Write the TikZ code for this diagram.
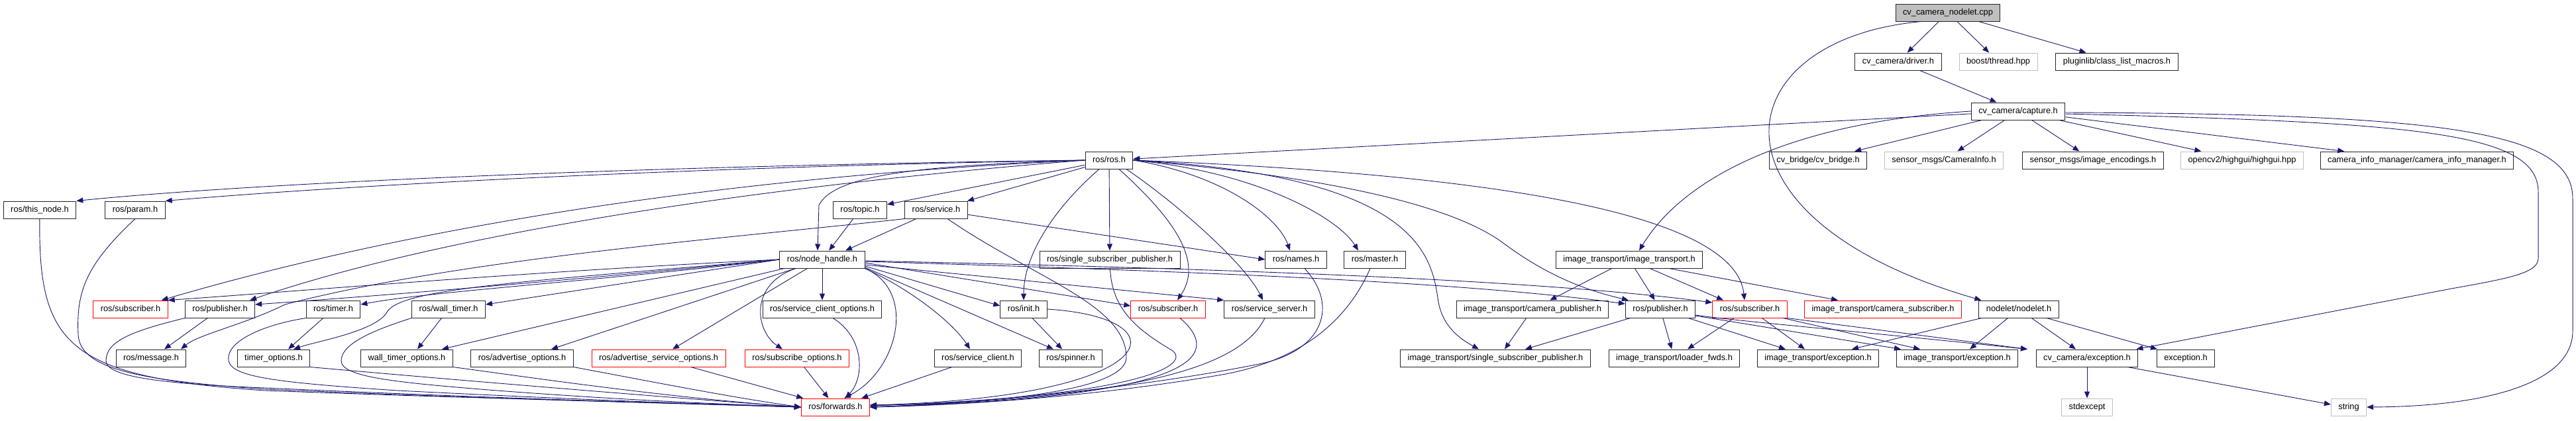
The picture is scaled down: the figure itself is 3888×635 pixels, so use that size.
\documentclass[tikz,border=0pt]{standalone}
\usepackage{fontspec}
\usepackage{xcolor}
\usepackage{tikz}
\usetikzlibrary{arrows.meta}
\newfontfamily\graphfont{Liberation Sans}
\definecolor{edgeblue}{HTML}{191970}
\definecolor{extgray}{HTML}{BFBFBF}
\definecolor{cutred}{HTML}{FF0000}

\begin{document}
\begin{tikzpicture}[x=1pt, y=-1pt,
  hbox/.style={draw=black!85, fill=white, line width=1pt, minimum height=26pt,
               inner xsep=11pt, inner ysep=0pt, text height=9.5pt, text depth=2.5pt,
               font={\graphfont\fontsize{12.8}{15}\selectfont}},
  extbox/.style={hbox, draw=extgray},
  cutbox/.style={hbox, draw=cutred},
  rootbox/.style={hbox, fill=extgray},
  arr/.style={-{Triangle[length=10pt, width=8pt]}, edgeblue, line width=0.9pt}
]
  \useasboundingbox (0,0) rectangle (3888,635);

  \node[rootbox] (root) at (2940,19) {cv\_camera\_nodelet.cpp};

  \node[hbox] (driver) at (2865,93) {cv\_camera/driver.h};
  \node[extbox] (boostthr) at (3016,93) {boost/thread.hpp};
  \node[hbox] (pluginlib) at (3195,93) {pluginlib/class\_list\_macros.h};

  \node[hbox] (capture) at (3046,168) {cv\_camera/capture.h};

  \node[hbox] (rosros) at (1674,242) {ros/ros.h};
  \node[hbox] (cvbridge) at (2744,242) {cv\_bridge/cv\_bridge.h};
  \node[extbox] (caminfo) at (2934,242) {sensor\_msgs/CameraInfo.h};
  \node[hbox] (imgenc) at (3159,242) {sensor\_msgs/image\_encodings.h};
  \node[extbox] (highgui) at (3384,242) {opencv2/highgui/highgui.hpp};
  \node[hbox] (cimgr) at (3648,242) {camera\_info\_manager/camera\_info\_manager.h};

  \node[hbox] (thisnode) at (60,317) {ros/this\_node.h};
  \node[hbox] (param) at (204,317) {ros/param.h};
  \node[hbox] (topic) at (1298,317) {ros/topic.h};
  \node[hbox] (service) at (1413,317) {ros/service.h};

  \node[hbox] (nodehandle) at (1241,392) {ros/node\_handle.h};
  \node[hbox] (rosssp) at (1675,392) {ros/single\_subscriber\_publisher.h};
  \node[hbox] (names) at (1956,392) {ros/names.h};
  \node[hbox] (master) at (2075,392) {ros/master.h};
  \node[hbox] (ittransport) at (2459,392) {image\_transport/image\_transport.h};

  \node[cutbox] (sub1) at (197,467) {ros/subscriber.h};
  \node[hbox] (pub1) at (332,467) {ros/publisher.h};
  \node[hbox] (timer) at (503,467) {ros/timer.h};
  \node[hbox] (walltimer) at (677,467) {ros/wall\_timer.h};
  \node[hbox] (scopts) at (1241,467) {ros/service\_client\_options.h};
  \node[hbox] (init) at (1545,467) {ros/init.h};
  \node[cutbox] (sub2) at (1763,467) {ros/subscriber.h};
  \node[hbox] (srvserver) at (1916,467) {ros/service\_server.h};
  \node[hbox] (itcampub) at (2313,467) {image\_transport/camera\_publisher.h};
  \node[hbox] (pub2) at (2506,467) {ros/publisher.h};
  \node[cutbox] (sub3) at (2641,467) {ros/subscriber.h};
  \node[cutbox] (itcamsub) at (2842,467) {image\_transport/camera\_subscriber.h};
  \node[hbox] (nodelet) at (3047,467) {nodelet/nodelet.h};

  \node[hbox] (message) at (228,541) {ros/message.h};
  \node[hbox] (timeropts) at (413,541) {timer\_options.h};
  \node[hbox] (walltimeropts) at (614,541) {wall\_timer\_options.h};
  \node[hbox] (advopts) at (788,541) {ros/advertise\_options.h};
  \node[cutbox] (advsrvopts) at (994,541) {ros/advertise\_service\_options.h};
  \node[cutbox] (subopts) at (1203,541) {ros/subscribe\_options.h};
  \node[hbox] (srvclient) at (1476,541) {ros/service\_client.h};
  \node[hbox] (spinner) at (1616,541) {ros/spinner.h};
  \node[hbox] (itssp) at (2257,541) {image\_transport/single\_subscriber\_publisher.h};
  \node[hbox] (itloader) at (2527,541) {image\_transport/loader\_fwds.h};
  \node[hbox] (itexc1) at (2744,541) {image\_transport/exception.h};
  \node[hbox] (itexc2) at (2954,541) {image\_transport/exception.h};
  \node[hbox] (cvexc) at (3150,541) {cv\_camera/exception.h};
  \node[hbox] (exc) at (3299,541) {exception.h};

  \node[cutbox] (forwards) at (1261,615) {ros/forwards.h};
  \node[extbox] (stdexcept) at (3150,615) {stdexcept};
  \node[extbox] (string) at (3545,615) {string};

  \draw[arr] (root) -- (driver);
  \draw[arr] (root) -- (boostthr);
  \draw[arr] (root) -- (pluginlib);
  \draw[arr] ([xshift=-40pt]root.south) .. controls (2600,60) and (2560,330) .. ([xshift=4pt]nodelet.north west);
  \draw[arr] (driver) -- (capture);

  \draw[arr] (capture) -- (rosros);
  \draw[arr] (capture.west) .. controls (2700,185) and (2540,270) .. ([xshift=15pt]ittransport.north);
  \draw[arr] (capture) -- (cvbridge);
  \draw[arr] (capture) -- (caminfo);
  \draw[arr] (capture) -- (imgenc);
  \draw[arr] (capture) -- (highgui);
  \draw[arr] (capture) -- (cimgr);
  \draw[arr] ([yshift=-4pt]capture.east) .. controls (3650,185) and (3831,200) .. (3831,290) -- (3831,390)
    .. controls (3831,412) and (3790,420) .. (3700,436) -- ([xshift=-3pt]cvexc.north east);
  \draw[arr] ([yshift=-2pt]capture.east) .. controls (3700,172) and (3883,200) .. (3883,300) -- (3883,500)
    .. controls (3883,580) and (3750,614) .. (string.east);

  \draw[arr] (rosros.west) .. controls (1000,250) and (400,275) .. (thisnode.north east);
  \draw[arr] (rosros.west) .. controls (1000,253) and (500,282) .. (param.north east);
  \draw[arr] (rosros) -- (topic);
  \draw[arr] (rosros) -- (service);
  \draw[arr] (rosros.west) .. controls (1400,250) and (1260,262) .. (1236,310) -- ([xshift=-7pt]nodehandle.north);
  \draw[arr] (rosros.west) .. controls (1200,262) and (700,320) .. ([xshift=-10pt]sub1.north east);
  \draw[arr] (rosros.west) .. controls (1100,285) and (650,360) .. ([xshift=-8pt]pub1.north east);
  \draw[arr] ([xshift=-15pt]rosros.south) .. controls (1585,320) and (1545,390) .. (init.north);
  \draw[arr] (rosros) -- (rosssp);
  \draw[arr] ([xshift=15pt]rosros.south) .. controls (1760,320) and (1820,390) .. ([xshift=14pt]sub2.north);
  \draw[arr] ([xshift=26pt]rosros.south) .. controls (1780,310) and (1880,400) .. ([xshift=-10pt]srvserver.north);
  \draw[arr] (rosros.east) .. controls (1850,265) and (1930,330) .. ([xshift=-9pt]names.north);
  \draw[arr] (rosros.east) .. controls (1900,260) and (2020,330) .. ([xshift=-25pt]master.north);
  \draw[arr] (rosros.east) .. controls (2130,265) and (2160,380) .. (2170,450)
    .. controls (2175,490) and (2200,510) .. ([xshift=-25pt]itssp.north);
  \draw[arr] (rosros.east) .. controls (1950,262) and (2180,300) .. (2270,368)
    .. controls (2340,420) and (2400,440) .. ([xshift=5pt]pub2.north west);
  \draw[arr] (rosros.east) .. controls (2300,265) and (2620,330) .. ([xshift=-8pt]sub3.north);

  \draw[arr] (topic) -- (nodehandle);
  \draw[arr] (service) -- ([xshift=35pt]nodehandle.north);
  \draw[arr] (service) -- (names.west);
  \draw[arr] (service.south west) .. controls (1100,360) and (700,390) .. (430,460)
    .. controls (370,490) and (300,505) .. ([xshift=45pt]message.north);
  \draw[arr] ([xshift=17pt]service.south) .. controls (1560,420) and (1700,460) .. (1700,540)
    .. controls (1700,590) and (1500,610) .. ([yshift=3pt]forwards.east);

  \draw[arr] (nodehandle.west) .. controls (800,410) and (450,440) .. (sub1.north east);
  \draw[arr] (nodehandle.west) .. controls (900,420) and (600,445) .. ([yshift=7pt]pub1.east);
  \draw[arr] (nodehandle.west) .. controls (900,425) and (650,440) .. ([yshift=7pt]timer.east);
  \draw[arr] (nodehandle.west) .. controls (800,425) and (610,435) .. (585,470)
    .. controls (570,500) and (480,515) .. ([xshift=30pt]timeropts.north);
  \draw[arr] (nodehandle.west) -- ([yshift=7pt]walltimer.east);
  \draw[arr] (nodehandle) -- ([xshift=53pt]walltimeropts.north);
  \draw[arr] (nodehandle) -- ([xshift=44pt]advopts.north);
  \draw[arr] (nodehandle) -- ([xshift=21pt]advsrvopts.north);
  \draw[arr] ([xshift=-40pt]nodehandle.south) .. controls (1130,430) and (1140,500) .. ([xshift=-22pt]subopts.north);
  \draw[arr] (nodehandle) -- (scopts);
  \draw[arr] ([yshift=-10pt]nodehandle.east) -- ([yshift=5pt]init.west);
  \draw[arr] ([yshift=-12pt]nodehandle.east) -- ([xshift=-26pt]spinner.north);
  \draw[arr] (nodehandle.south east) .. controls (1380,440) and (1440,490) .. ([xshift=-12pt]srvclient.north);
  \draw[arr] (nodehandle.south east) .. controls (1385,440) and (1355,560) .. ([xshift=13pt]forwards.north);
  \draw[arr] ([yshift=-5pt]nodehandle.east) -- ([yshift=5pt]sub2.west);
  \draw[arr] ([yshift=-8pt]nodehandle.east) -- (srvserver.north west);
  \draw[arr] ([yshift=-3pt]nodehandle.east) .. controls (1800,410) and (2200,425) .. ([yshift=8pt]pub2.west);
  \draw[arr] ([yshift=-2pt]nodehandle.east) .. controls (1800,405) and (2300,420) .. ([yshift=10pt]sub3.west);

  \draw[arr] (thisnode) .. controls (58,520) and (100,570) .. (400,590)
    .. controls (800,605) and (1100,610) .. (forwards.west);
  \draw[arr] (param.south) .. controls (130,400) and (115,440) .. (118,505)
    .. controls (120,560) and (220,575) .. (400,588) .. controls (800,605) and (1050,610) .. (forwards.west);
  \draw[arr] (pub1) -- ([xshift=20pt]message.north);
  \draw[arr] (pub1.south west) .. controls (200,500) and (160,515) .. (160,545)
    .. controls (160,570) and (250,580) .. (400,586) .. controls (800,604) and (1050,610) .. (forwards.west);
  \draw[arr] (timer) -- ([xshift=22pt]timeropts.north);
  \draw[arr] (timer.south west) .. controls (400,490) and (340,515) .. (345,545)
    .. controls (350,570) and (420,578) .. (600,590) .. controls (900,605) and (1050,610) .. (forwards.west);
  \draw[arr] (timeropts.south east) .. controls (700,575) and (1000,600) .. (forwards.west);
  \draw[arr] (walltimer) -- ([xshift=16pt]walltimeropts.north);
  \draw[arr] (walltimer.south west) .. controls (560,500) and (515,520) .. (515,545)
    .. controls (515,570) and (600,578) .. (750,590) .. controls (950,605) and (1080,610) .. (forwards.west);
  \draw[arr] (walltimeropts.south east) .. controls (800,570) and (1000,600) .. (forwards.west);
  \draw[arr] (advopts.south east) .. controls (950,570) and (1100,600) .. (forwards.west);
  \draw[arr] (advsrvopts) -- (forwards);
  \draw[arr] (subopts) -- (forwards);
  \draw[arr] ([xshift=16pt]scopts.south) .. controls (1305,510) and (1305,570) .. ([xshift=15pt]forwards.north);
  \draw[arr] (srvclient) -- (forwards);
  \draw[arr] (init) -- (spinner);
  \draw[arr] (init.east) .. controls (1790,480) and (1760,600) .. ([yshift=3pt]forwards.east);
  \draw[arr] (rosssp) .. controls (1678,470) and (1720,500) .. (1770,530)
    .. controls (1800,555) and (1700,600) .. ([yshift=2pt]forwards.east);
  \draw[arr] ([xshift=18pt]sub2.south) .. controls (1850,540) and (1800,600) .. (forwards.east);
  \draw[arr] ([xshift=-7pt]srvserver.south) .. controls (1870,560) and (1700,600) .. (forwards.east);
  \draw[arr] ([xshift=13pt]names.south) .. controls (2020,460) and (2000,530) .. (1900,550)
    .. controls (1700,590) and (1450,610) .. (forwards.east);
  \draw[arr] ([xshift=-7pt]master.south) .. controls (2040,470) and (1980,540) .. (1850,565)
    .. controls (1650,600) and (1450,612) .. (forwards.east);

  \draw[arr] (ittransport) -- (itcampub);
  \draw[arr] (ittransport) -- (pub2);
  \draw[arr] (ittransport) -- ([xshift=-40pt]sub3.north);
  \draw[arr] ([xshift=60pt]ittransport.south) -- ([xshift=-68pt]itcamsub.north);
  \draw[arr] (itcampub) -- ([xshift=14pt]itssp.north);
  \draw[arr] (pub2) -- ([xshift=45pt]itssp.north);
  \draw[arr] (pub2) -- (itloader);
  \draw[arr] (pub2) -- ([xshift=-49pt]itexc1.north);
  \draw[arr] ([yshift=-10pt]pub2.east) -- ([xshift=-85pt]itexc2.north);
  \draw[arr] ([yshift=-9pt]pub2.east) .. controls (2620,485) and (2800,500) .. ([xshift=-90pt]cvexc.north);
  \draw[arr] ([xshift=-24pt]sub3.south) -- ([xshift=20pt]itloader.north);
  \draw[arr] (sub3) -- ([xshift=-20pt]itexc1.north);
  \draw[arr] ([xshift=50pt]sub3.south) -- ([xshift=-56pt]itexc2.north);
  \draw[arr] (sub3.south east) -- ([xshift=-90pt]cvexc.north);
  \draw[arr] (nodelet) -- ([xshift=51pt]itexc1.north);
  \draw[arr] (nodelet) -- ([xshift=19pt]itexc2.north);
  \draw[arr] (nodelet) -- ([xshift=-17pt]cvexc.north);
  \draw[arr] ([xshift=42pt]nodelet.south) -- ([xshift=-43pt]exc.north);
  \draw[arr] (cvexc) -- (stdexcept);
  \draw[arr] ([xshift=-16pt]cvexc.south east) -- ([yshift=4pt]string.west);
\end{tikzpicture}
\end{document}
